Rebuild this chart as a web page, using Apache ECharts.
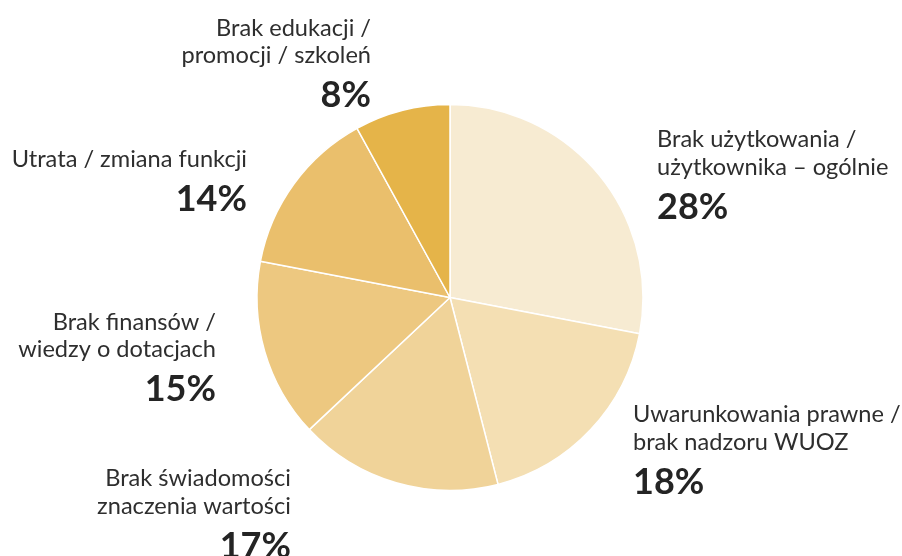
<!DOCTYPE html>
<html>
<head>
<meta charset="utf-8">
<script src="https://cdn.jsdelivr.net/npm/echarts@6/dist/echarts.min.js"></script>
<style>
  html, body { margin: 0; padding: 0; background: #fff; }
  #chart { width: 902px; height: 556px; }
</style>
</head>
<body>
<div id="chart"></div>
<script>
// kategorie (linie etykiety) i wartości procentowe
const categories = [
  ['Brak użytkowania /', 'użytkownika – ogólnie'],
  ['Uwarunkowania prawne /', 'brak nadzoru WUOZ'],
  ['Brak świadomości', 'znaczenia wartości'],
  ['Brak finansów /', 'wiedzy o dotacjach'],
  ['Utrata / zmiana funkcji'],
  ['Brak edukacji /', 'promocji / szkoleń'],
]
const values = [28, 18, 17, 15, 14, 8]

const colors = ['#F7EBD2', '#F4DFB3', '#F0D399', '#EDC880', '#EABF6C', '#E5B449']

// położenie etykiet: [x, górna krawędź, wyrównanie]
const labelAnchors = [
  [657, 126, 'left'],
  [633, 401, 'left'],
  [291, 465, 'right'],
  [216, 308.5, 'right'],
  [247, 146, 'right'],
  [371, 14.5, 'right'],
]

const chart = echarts.init(document.getElementById('chart'))

const option = {
  animation: false,
  series: [
    {
      type: 'pie',
      left: 0,
      top: 0,
      right: -300,
      bottom: 0,
      center: [450, 297.5],
      radius: 193,
      startAngle: 90,
      clockwise: true,
      data: values.map((v, i) => ({
        value: v,
        name: categories[i].join(' '),
        itemStyle: { color: colors[i] },
      })),
      itemStyle: { borderColor: '#fff', borderWidth: 1.5 },
      emphasis: { disabled: true },
      labelLine: { show: false },
      label: {
        show: true,
        position: 'outside',
        overflow: 'none',
        formatter: (p) => {
          const lines = categories[p.dataIndex].map((l) => `{n|${l}}`)
          return lines.join('\n') + `\n{p|${p.value}%}`
        },
        rich: {
          n: {
            fontFamily: 'Lato',
            fontSize: 23.6,
            lineHeight: 27.5,
            color: '#2e2e2e',
          },
          p: {
            fontFamily: 'Lato',
            fontSize: 36,
            fontWeight: 'bold',
            lineHeight: 52,
            color: '#242424',
          },
        },
      },
      labelLayout: (params) => {
        const a = labelAnchors[params.dataIndex]
        return { x: a[0], y: a[1], align: a[2], verticalAlign: 'top' }
      },
    },
  ],
}

chart.setOption(option)
</script>
</body>
</html>
